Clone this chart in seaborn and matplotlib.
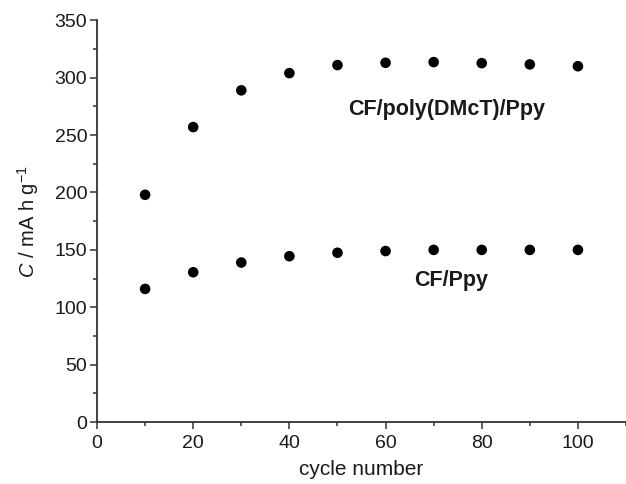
import matplotlib
matplotlib.use("Agg")
import matplotlib.pyplot as plt
from matplotlib.ticker import MultipleLocator
import pandas as pd
import seaborn as sns

cycles = [10, 20, 30, 40, 50, 60, 70, 80, 90, 100]
cap_dmct = [198, 257, 289, 304, 311, 313, 313.6, 312.7, 311.6, 310]
cap_ppy = [116, 130.5, 139, 144.5, 147.5, 149, 150, 150, 150, 150]
series_names = ["CF/poly(DMcT)/Ppy", "CF/Ppy"]

df = pd.DataFrame({
    "cycle": cycles * 2,
    "capacity": cap_dmct + cap_ppy,
    "electrode": [series_names[0]] * len(cycles) + [series_names[1]] * len(cycles),
})

sns.set_theme(style="ticks")
plt.rcParams["font.family"] = ["Liberation Sans", "DejaVu Sans"]
plt.rcParams["mathtext.fontset"] = "custom"
plt.rcParams["mathtext.rm"] = "Liberation Sans"
plt.rcParams["mathtext.it"] = "Liberation Sans:italic"

fig = plt.figure(figsize=(6.26, 4.84), dpi=100)
ax = fig.add_axes([0.155, 0.128, 0.845, 0.83])

sns.scatterplot(data=df, x="cycle", y="capacity", hue="electrode",
                palette=["black", "black"], s=58, edgecolor="none",
                legend=False, ax=ax)

ax.set_xlim(0, 110)
ax.set_ylim(0, 350)
ax.xaxis.set_major_locator(MultipleLocator(20))
ax.xaxis.set_minor_locator(MultipleLocator(10))
ax.yaxis.set_major_locator(MultipleLocator(50))
ax.yaxis.set_minor_locator(MultipleLocator(25))

edge = "#333333"
for side in ("top", "right"):
    ax.spines[side].set_visible(False)
for side in ("left", "bottom"):
    ax.spines[side].set_color(edge)
    ax.spines[side].set_linewidth(1.3)
ax.tick_params(which="major", direction="out", length=5, width=1.1,
               color=edge, labelsize=14, labelcolor="#1a1a1a")
ax.tick_params(axis="x", which="major", pad=4)
ax.tick_params(axis="y", which="major", pad=2)
ax.tick_params(which="minor", direction="out", length=3, width=1.1, color=edge)

ax.set_xlabel("cycle number", fontsize=15, color="#1a1a1a", labelpad=6)
ax.set_ylabel(r"$\it{C}$ / mA h g$^{-1}$", fontsize=14.5, color="#1a1a1a", labelpad=10)

ax.text(72.7, 272, series_names[0], ha="center", va="center",
        fontsize=15.5, fontweight="bold", color="#1a1a1a")
ax.text(73.6, 123, series_names[1], ha="center", va="center",
        fontsize=15.5, fontweight="bold", color="#1a1a1a")

fig.savefig("out.png", dpi=100)
